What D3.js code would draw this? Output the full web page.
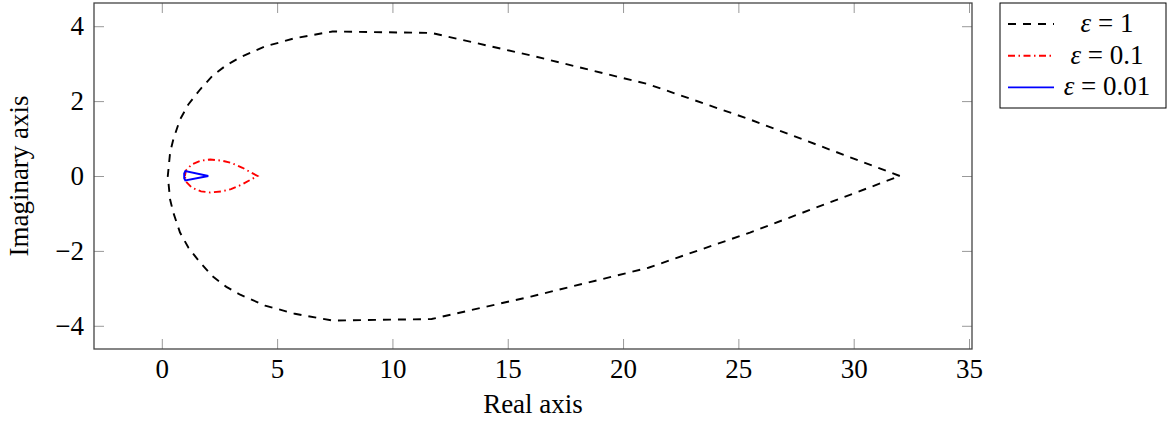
<!DOCTYPE html>
<html>
<head>
<meta charset="utf-8">
<script src="https://cdn.jsdelivr.net/npm/d3@7"></script>
<style>
  body { margin: 0; background: #fff; }
  svg text { font-family: "Liberation Serif", "DejaVu Serif", serif; }
</style>
</head>
<body>
<div id="chart"></div>
<script>
// Nyquist curves
var xTicks = [0, 5, 10, 15, 20, 25, 30, 35];
var yTicks = [-4, -2, 0, 2, 4];

var eps1Re = [32.0, 25.5, 21.1, 16.0, 11.7, 7.4, 5.77, 4.48, 3.4, 2.8, 2.2, 1.66, 1.15, 0.79, 0.50, 0.36, 0.26,
              0.36, 0.50, 0.79, 1.15, 1.66, 2.2, 2.8, 3.4, 4.48, 5.77, 7.4, 11.7, 16.0, 21.1, 25.5, 32.0];
var eps1Im = [0, 1.51, 2.45, 3.22, 3.82, 3.86, 3.68, 3.46, 3.17, 2.96, 2.68, 2.31, 1.91, 1.51, 0.98, 0.63, 0,
              -0.63, -0.98, -1.51, -1.91, -2.31, -2.68, -2.96, -3.17, -3.46, -3.68, -3.86, -3.82, -3.22, -2.45, -1.51, 0];

var eps01Re = [1.0, 1.05, 1.3, 1.7, 2.1, 2.6, 3.0, 3.5, 3.85, 4.15, 3.85, 3.5, 3.0, 2.6, 2.1, 1.7, 1.3, 1.05, 1.0];
var eps01Im = [0, 0.15, 0.31, 0.41, 0.44, 0.41, 0.35, 0.22, 0.10, 0, -0.10, -0.22, -0.35, -0.41, -0.44, -0.41, -0.31, -0.15, 0];

var eps001Re = [2.02, 1.02, 0.97, 0.97, 1.02, 2.02];
var eps001Im = [0, 0.13, 0.07, -0.06, -0.12, 0];

var seriesNames = ["1", "0.1", "0.01"];

function zip(re, im) {
    return re.map((r, i) => ({ re: r, im: im[i] }));
}

var series = [
    { name: seriesNames[0], data: zip(eps1Re, eps1Im), color: "#000", dash: "8,7" },
    { name: seriesNames[1], data: zip(eps01Re, eps01Im), color: "#ff0000", dash: "7,3.5,1.5,3.5" },
    { name: seriesNames[2], data: zip(eps001Re, eps001Im), color: "#0000ff", dash: null }
];

const W = 1169, H = 421;
const plot = { left: 94, right: 972, top: 3, bottom: 349 };

const svg = d3.select("#chart")
    .append("svg")
    .attr("width", W)
    .attr("height", H);

const x = d3.scaleLinear()
    .domain([-2.94, 35.13])
    .range([plot.left, plot.right]);

const y = d3.scaleLinear()
    .domain([-4.62, 4.62])
    .range([plot.bottom, plot.top]);

const fontSize = 27;

// axes with inward ticks, mirrored on top/right
const gx = svg.append("g")
    .attr("transform", `translate(0,${plot.bottom})`)
    .call(d3.axisBottom(x).tickValues(xTicks).tickSize(-10).tickSizeOuter(0).tickPadding(10));
const gxTop = svg.append("g")
    .attr("transform", `translate(0,${plot.top})`)
    .call(d3.axisTop(x).tickValues(xTicks).tickSize(-10).tickSizeOuter(0).tickFormat(""));
const gy = svg.append("g")
    .attr("transform", `translate(${plot.left},0)`)
    .call(d3.axisLeft(y).tickValues(yTicks).tickSize(-10).tickSizeOuter(0).tickPadding(10));
const gyRight = svg.append("g")
    .attr("transform", `translate(${plot.right},0)`)
    .call(d3.axisRight(y).tickValues(yTicks).tickSize(-10).tickSizeOuter(0).tickFormat(""));

[gx, gxTop, gy, gyRight].forEach(g => {
    g.select(".domain").remove();
    g.selectAll(".tick line").attr("stroke", "#999").attr("stroke-width", 1);
    g.selectAll(".tick text")
        .attr("fill", "#000")
        .style("font-size", fontSize + "px");
});

// curves
const line = d3.line()
    .x(d => x(d.re))
    .y(d => y(d.im));

svg.append("defs").append("clipPath")
    .attr("id", "clip")
    .append("rect")
    .attr("x", plot.left).attr("y", plot.top)
    .attr("width", plot.right - plot.left).attr("height", plot.bottom - plot.top);

series.forEach(s => {
    svg.append("path")
        .datum(s.data)
        .attr("clip-path", "url(#clip)")
        .attr("fill", "none")
        .attr("stroke", s.color)
        .attr("stroke-width", 1.9)
        .attr("stroke-linejoin", "miter")
        .attr("stroke-dasharray", s.dash)
        .attr("d", line);
});

// frame
svg.append("rect")
    .attr("x", plot.left).attr("y", plot.top)
    .attr("width", plot.right - plot.left).attr("height", plot.bottom - plot.top)
    .attr("fill", "none")
    .attr("stroke", "#444")
    .attr("stroke-width", 1.3);

// axis labels
svg.append("text")
    .attr("x", (plot.left + plot.right) / 2)
    .attr("y", 413)
    .attr("text-anchor", "middle")
    .style("font-size", fontSize + "px")
    .text("Real axis");

svg.append("text")
    .attr("transform", `translate(28,${(plot.top + plot.bottom) / 2}) rotate(-90)`)
    .attr("text-anchor", "middle")
    .style("font-size", fontSize + "px")
    .text("Imaginary axis");

// legend
const legend = svg.append("g");
legend.append("rect")
    .attr("x", 1000).attr("y", 3)
    .attr("width", 166).attr("height", 105)
    .attr("fill", "#fff")
    .attr("stroke", "#000")
    .attr("stroke-width", 1);

const rows = legend.selectAll(".legend")
    .data(series)
    .enter().append("g")
    .attr("class", "legend")
    .attr("transform", (d, i) => `translate(0,${24 + i * 31.7})`);

rows.append("line")
    .attr("x1", 1008).attr("x2", 1054)
    .attr("y1", 0).attr("y2", 0)
    .attr("stroke", d => d.color)
    .attr("stroke-width", 1.9)
    .attr("stroke-dasharray", d => d.dash);

const lt = rows.append("text")
    .attr("x", 1107)
    .attr("y", 8)
    .attr("text-anchor", "middle")
    .style("font-size", fontSize + "px");
lt.append("tspan").style("font-style", "italic").text("ε");
lt.append("tspan").text(d => " = " + d.name);
</script>
</body>
</html>
